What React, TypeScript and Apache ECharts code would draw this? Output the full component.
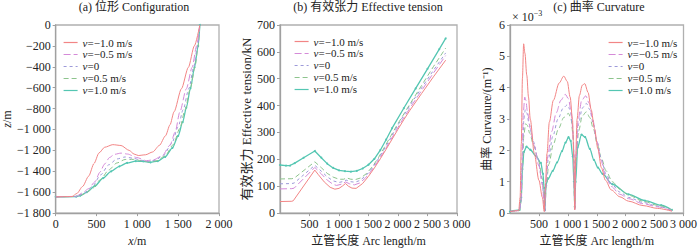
import React, { useEffect, useRef } from "react";
import * as echarts from "echarts";

// ---------- data ----------
const seriesNames = ["v=−1.0 m/s", "v=−0.5 m/s", "v=0", "v=0.5 m/s", "v=1.0 m/s"];
const seriesColors = ["#f28585", "#d58ad8", "#9d9ad9", "#8dc48d", "#54c6b2"];

const xTicksA = [0, 500, 1000, 1500, 2000];
const zTicksA = [-1800, -1600, -1400, -1200, -1000, -800, -600, -400, -200, 0];

// (a) configuration: [x (m), z (m)]
const cfgM10 = [[0,-1645],[200,-1642],[260,-1612],[330,-1545],[404,-1446],[470,-1325],[530,-1225],[600,-1170],[700,-1145],[800,-1153],[900,-1200],[960,-1235],[1012,-1249],[1100,-1242],[1188,-1215],[1270,-1152],[1345,-1060],[1400,-955],[1450,-830],[1540,-610],[1625,-405],[1698,-200],[1765,0]];
const cfgM05 = [[0,-1645],[250,-1640],[330,-1606],[400,-1568],[482,-1500],[540,-1410],[600,-1330],[660,-1268],[718,-1238],[800,-1226],[880,-1235],[992,-1268],[1110,-1298],[1200,-1290],[1306,-1250],[1400,-1150],[1463,-1025],[1521,-830],[1600,-610],[1671,-405],[1726,-200],[1765,0]];
const cfg0 = [[0,-1645],[250,-1641],[350,-1612],[450,-1545],[550,-1435],[650,-1338],[750,-1282],[850,-1263],[950,-1275],[1050,-1295],[1130,-1305],[1220,-1293],[1320,-1247],[1420,-1135],[1500,-975],[1561,-810],[1632,-605],[1690,-405],[1737,-200],[1765,0]];
const cfgP05 = [[0,-1645],[250,-1641],[350,-1618],[450,-1565],[550,-1478],[650,-1387],[750,-1320],[850,-1287],[950,-1286],[1050,-1298],[1140,-1310],[1240,-1298],[1340,-1252],[1440,-1145],[1520,-990],[1585,-810],[1650,-605],[1705,-405],[1745,-200],[1765,0]];
const cfgP10 = [[0,-1645],[250,-1642],[300,-1633],[380,-1600],[482,-1540],[580,-1465],[679,-1400],[780,-1352],[874,-1320],[980,-1303],[1071,-1305],[1160,-1315],[1250,-1302],[1340,-1262],[1430,-1175],[1500,-1060],[1555,-930],[1600,-790],[1651,-605],[1700,-405],[1745,-200],[1765,0]];

// (b) effective tension: [arc length (m), tension (kN)]
const tenM10 = [[0,43],[200,44],[225,46],[590,160],[650,143],[750,116],[850,96],[930,89],[1000,92],[1060,101],[1110,110],[1160,100],[1220,93],[1290,92],[1400,110],[1500,137],[1600,168],[1700,202],[1800,238],[1900,275],[2000,312],[2100,348],[2200,382],[2400,445],[2600,507],[2808,569]];
const tenM05 = [[0,90],[200,91],[240,93],[590,170],[700,146],[800,123],[900,107],[960,103],[1050,108],[1110,116],[1180,109],[1260,105],[1350,112],[1450,131],[1550,158],[1650,190],[1750,225],[1850,262],[1950,300],[2050,338],[2200,390],[2400,456],[2600,521],[2808,586]];
const ten0 = [[0,109],[200,110],[240,112],[590,178],[700,156],[800,135],[900,120],[1000,114],[1080,118],[1120,123],[1190,117],[1270,115],[1350,121],[1450,138],[1550,164],[1650,196],[1750,232],[1850,270],[1950,309],[2050,347],[2200,400],[2400,466],[2600,531],[2808,596]];
const tenP05 = [[0,127],[200,128],[240,130],[590,191],[700,169],[800,148],[900,134],[1000,126],[1080,126],[1130,131],[1200,126],[1280,125],[1370,131],[1470,148],[1570,174],[1670,207],[1770,245],[1870,284],[1980,326],[2200,405],[2400,475],[2600,545],[2808,614]];
const tenP10 = [[0,179],[100,177],[170,177],[250,186],[400,206],[590,231],[700,206],[800,184],[900,168],[1000,159],[1100,156],[1200,154],[1300,157],[1400,166],[1500,180],[1600,202],[1700,234],[1800,274],[1900,316],[2100,391],[2300,464],[2500,537],[2700,610],[2808,650]];

// (c) curvature (x10^-3 1/m): [arc length (m), curvature]
const curM10 = [[0,0.05],[150,0.08],[175,0.5],[195,2.2],[215,4.3],[236,5.4],[258,5.1],[290,4.4],[320,3.7],[350,3.0],[420,1.9],[500,1.05],[560,0.5],[592,0.05],[610,0.8],[640,1.9],[680,2.9],[750,3.6],[850,4.15],[930,4.37],[990,4.2],[1040,3.7],[1080,3.0],[1105,1.8],[1120,0.1],[1135,1.8],[1160,3.0],[1200,3.75],[1250,4.08],[1292,4.13],[1350,3.85],[1404,3.3],[1460,2.7],[1520,2.05],[1580,1.45],[1650,1.05],[1750,0.74],[1900,0.52],[2050,0.38],[2300,0.24],[2550,0.15],[2800,0.06]];
const curM05 = [[0,0.05],[160,0.08],[190,0.4],[210,1.8],[230,3.2],[255,3.7],[275,3.6],[300,3.25],[350,2.7],[420,2.15],[500,1.5],[560,0.9],[600,0.05],[615,0.8],[650,1.8],[720,2.6],[800,3.2],[880,3.6],[955,3.79],[1010,3.65],[1060,3.2],[1095,2.4],[1120,0.1],[1140,1.8],[1180,3.0],[1240,3.6],[1310,3.74],[1370,3.5],[1430,3.0],[1500,2.3],[1570,1.7],[1650,1.2],[1750,0.85],[1900,0.6],[2050,0.46],[2300,0.3],[2550,0.2],[2800,0.07]];
const cur0 = [[0,0.05],[165,0.08],[195,0.4],[215,1.7],[240,3.0],[265,3.3],[290,3.2],[330,2.85],[400,2.3],[480,1.75],[550,1.1],[603,0.05],[620,0.8],[660,1.7],[740,2.45],[830,3.0],[920,3.35],[990,3.45],[1040,3.3],[1080,2.8],[1105,2.0],[1120,0.12],[1140,1.7],[1185,2.85],[1250,3.35],[1320,3.5],[1380,3.3],[1440,2.85],[1510,2.25],[1580,1.7],[1660,1.25],[1760,0.92],[1900,0.67],[2050,0.5],[2300,0.34],[2550,0.22],[2800,0.08]];
const curP05 = [[0,0.05],[165,0.08],[195,0.4],[215,1.5],[240,2.5],[270,2.85],[300,2.8],[340,2.55],[410,2.15],[490,1.7],[560,1.1],[606,0.08],[625,0.8],[670,1.55],[750,2.2],[840,2.7],[930,3.05],[1011,3.18],[1055,3.0],[1090,2.5],[1120,0.15],[1140,1.6],[1185,2.6],[1250,3.1],[1320,3.23],[1380,3.05],[1440,2.7],[1510,2.2],[1580,1.75],[1660,1.35],[1770,1.0],[1900,0.76],[2050,0.57],[2300,0.38],[2550,0.25],[2800,0.09]];
const curP10 = [[0,0.05],[165,0.1],[195,0.5],[215,1.4],[240,1.95],[285,2.12],[350,2.02],[450,1.82],[534,1.6],[570,1.25],[590,0.8],[605,0.1],[620,0.9],[660,1.1],[740,1.35],[815,1.62],[900,1.98],[960,2.25],[1011,2.42],[1050,2.3],[1085,1.8],[1105,1.0],[1120,0.2],[1135,1.0],[1170,2.1],[1236,2.5],[1300,2.42],[1380,2.05],[1450,1.7],[1520,1.45],[1600,1.25],[1770,0.92],[2050,0.6],[2330,0.4],[2610,0.25],[2800,0.1]];

const configData = [cfgM10, cfgM05, cfg0, cfgP05, cfgP10];
const tensionData = [tenM10, tenM05, ten0, tenP05, tenP10];
const curvatureData = [curM10, curM05, cur0, curP05, curP10];

// ---------- styling ----------
const FONT = "'Liberation Serif', 'Times New Roman', 'Noto Sans CJK SC', serif";
const TEXT = "#222";
const AXIS = "#a0a0a0";
const dashes: (number[] | "solid")[] = ["solid", [7, 3], [3, 3], [5, 3], "solid"];

const fmtNum = (v: number) => {
  const a = Math.abs(v).toString();
  const s = a.length > 3 ? a.slice(0, -3) + " " + a.slice(-3) : a;
  return (v < 0 ? "−" : "") + s;
};

function buildSeries(data: number[][][], axisIndex: number, smooth: number | boolean) {
  return data.map((d, i) => ({
    name: seriesNames[i],
    type: "line",
    xAxisIndex: axisIndex,
    yAxisIndex: axisIndex,
    data: d,
    smooth,
    smoothMonotone: "x",
    symbol: i === 4 ? "circle" : "none",
    symbolSize: 2,
    showSymbol: i === 4,
    z: 10 - i,
    itemStyle: { color: seriesColors[i] },
    lineStyle: { color: seriesColors[i], width: i === 4 ? 1.3 : 1, type: dashes[i] },
  }));
}

const axisCommon = {
  axisLine: { show: true, onZero: false, lineStyle: { color: AXIS, width: 1.3 } },
  axisTick: { show: true, length: 3, lineStyle: { color: AXIS } },
  splitLine: { show: false },
  axisLabel: { color: TEXT, fontSize: 12, fontFamily: FONT, formatter: (v: number) => fmtNum(v) },
  nameTextStyle: { color: TEXT, fontSize: 12, fontFamily: FONT },
};

function legendAt(left: number, top: number) {
  return {
    orient: "vertical",
    left,
    top,
    itemWidth: 14,
    itemHeight: 8,
    itemGap: 1,
    data: seriesNames,
    itemStyle: { opacity: 0, borderWidth: 0 },
    lineStyle: { width: 1.2 },
    formatter: (n: string) => `{i|v}{n|${n.slice(1)}}`,
    textStyle: {
      color: TEXT,
      fontSize: 11,
      fontFamily: FONT,
      rich: {
        i: { fontStyle: "italic", fontSize: 11, fontFamily: FONT, color: TEXT, lineHeight: 10.5 },
        n: { fontSize: 11, fontFamily: FONT, color: TEXT, lineHeight: 10.5 },
      },
    },
  };
}

function title(text: string, x: number) {
  return {
    type: "text",
    x,
    y: 1,
    style: {
      text,
      fill: TEXT,
      font: `12px ${FONT}`,
      textAlign: "center",
      align: "center",
      textVerticalAlign: "top",
      verticalAlign: "top",
    },
  };
}

export default function App() {
  const ref = useRef<HTMLDivElement>(null);
  useEffect(() => {
    document.body.style.margin = "0";
    if (!ref.current) return;
    const chart = echarts.init(ref.current, undefined, { renderer: "svg" });
    const gridStyle = { show: true, borderColor: "#b0b0b0", borderWidth: 1.3, backgroundColor: "transparent" };
    chart.setOption({
      animation: false,
      backgroundColor: "#fff",
      grid: [
        { left: 49, top: 25, width: 170, height: 197, ...gridStyle },
        { left: 280, top: 25, width: 177, height: 197.5, ...gridStyle },
        { left: 510, top: 25, width: 178, height: 197.5, ...gridStyle },
      ],
      xAxis: [
        {
          ...axisCommon, type: "value", gridIndex: 0, min: xTicksA[0], max: xTicksA[xTicksA.length - 1], interval: 500,
          axisLabel: { ...axisCommon.axisLabel, margin: 5 },
          name: "{i|x}{n|/m}", nameLocation: "middle", nameGap: 16,
          nameTextStyle: { ...axisCommon.nameTextStyle, rich: { i: { fontStyle: "italic", fontSize: 12, fontFamily: FONT, color: TEXT }, n: { fontSize: 12, fontFamily: FONT, color: TEXT } } },
        },
        {
          ...axisCommon, type: "value", gridIndex: 1, min: 0, max: 3000, interval: 500,
          axisLabel: { ...axisCommon.axisLabel, margin: 5, showMinLabel: false },
          name: "立管长度 Arc length/m", nameLocation: "middle", nameGap: 16,
        },
        {
          ...axisCommon, type: "value", gridIndex: 2, min: 0, max: 3000, interval: 500,
          axisLabel: { ...axisCommon.axisLabel, margin: 5, showMinLabel: false },
          name: "立管长度 Arc length/m", nameLocation: "middle", nameGap: 16,
        },
      ],
      yAxis: [
        {
          ...axisCommon, type: "value", gridIndex: 0, min: zTicksA[0], max: zTicksA[zTicksA.length - 1], interval: 200,
          axisLabel: { ...axisCommon.axisLabel, margin: 5 },
          name: "{i|z}{n|/m}", nameLocation: "middle", nameGap: 39, nameRotate: 90,
          nameTextStyle: { ...axisCommon.nameTextStyle, rich: { i: { fontStyle: "italic", fontSize: 12, fontFamily: FONT, color: TEXT }, n: { fontSize: 12, fontFamily: FONT, color: TEXT } } },
        },
        {
          ...axisCommon, type: "value", gridIndex: 1, min: 0, max: 700, interval: 100,
          axisLabel: { ...axisCommon.axisLabel, margin: 5 },
          name: "有效张力 Effective tension/kN", nameLocation: "middle", nameGap: 25, nameRotate: 90,
          nameTextStyle: { ...axisCommon.nameTextStyle, fontSize: 13 },
        },
        {
          ...axisCommon, type: "value", gridIndex: 2, min: 0, max: 6, interval: 1,
          axisLabel: { ...axisCommon.axisLabel, margin: 5 },
          name: "曲率 Curvature/(m⁻¹)", nameLocation: "middle", nameGap: 17, nameRotate: 90,
        },
      ],
      legend: [legendAt(58, 32), legendAt(289, 31), legendAt(603, 32)],
      graphic: [
        title("(a) 位形 Configuration", 134),
        title("(b) 有效张力 Effective tension", 368),
        title("(c) 曲率 Curvature", 599),
        {
          type: "text",
          x: 512,
          y: 9,
          style: {
            text: "{a|× 10}{b|−3}",
            fill: TEXT,
            rich: {
              a: { fontSize: 12, fontFamily: FONT, fill: TEXT, color: TEXT },
              b: { fontSize: 8, fontFamily: FONT, fill: TEXT, color: TEXT, padding: [0, 0, 8, 0] },
            },
          },
        },
      ],
      series: [
        ...buildSeries(configData, 0, 0.25),
        ...buildSeries(tensionData, 1, false),
        ...buildSeries(curvatureData, 2, 0.3),
      ],
    });
    return () => chart.dispose();
  }, []);
  return <div ref={ref} style={{ width: 700, height: 252 }} />;
}
